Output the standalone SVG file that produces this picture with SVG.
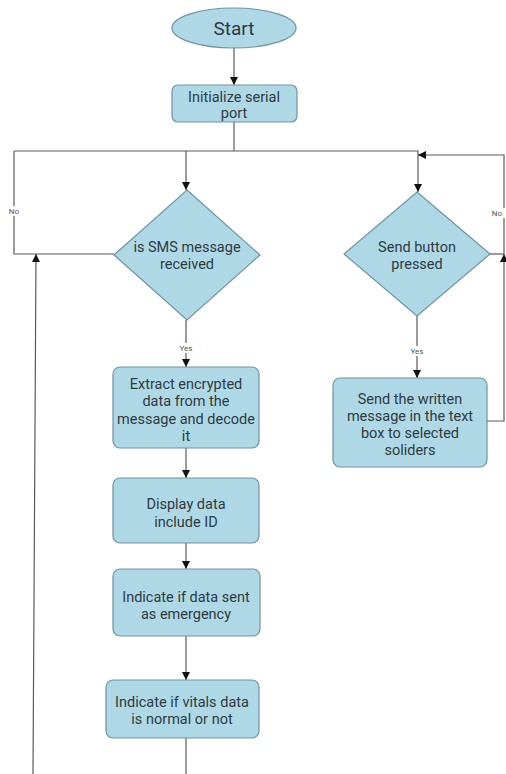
<svg xmlns="http://www.w3.org/2000/svg" width="506" height="774" viewBox="0 0 506 774">
<style>
.box{fill:#aed8e5;stroke:#6f93a2;stroke-width:1.2}
.t{font-family:Roboto,"Liberation Sans",sans-serif;font-size:14.5px;fill:#2f3a40;text-anchor:middle}
.lbl{font-family:Roboto,"Liberation Sans",sans-serif;font-size:8px;fill:#555;text-anchor:middle}
.ln{fill:none;stroke:#5a5a5a;stroke-width:1.2}
</style>
<defs>
<marker id="ah" viewBox="0 0 10 10" refX="10" refY="5" markerWidth="8" markerHeight="8" markerUnits="userSpaceOnUse" orient="auto">
<path d="M0,0 L10,5 L0,10 z" fill="#111"/>
</marker>
</defs>
<rect width="506" height="774" fill="#fff"/>
<g id="connectors">
<line class="ln" x1="234" y1="48" x2="234" y2="85" marker-end="url(#ah)"/>
<polyline class="ln" points="234,122 234,151"/>
<polyline class="ln" points="14,151 418,151 418,192" marker-end="url(#ah)"/>
<line class="ln" x1="186" y1="151" x2="186" y2="190" marker-end="url(#ah)"/>
<polyline class="ln" points="114,254 14,254 14,151"/>
<line class="ln" x1="33" y1="774" x2="36" y2="254" marker-end="url(#ah)"/>
<line class="ln" x1="186" y1="320" x2="186" y2="367" marker-end="url(#ah)"/>
<line class="ln" x1="186" y1="448" x2="186" y2="478" marker-end="url(#ah)"/>
<line class="ln" x1="186" y1="543" x2="186" y2="569" marker-end="url(#ah)"/>
<line class="ln" x1="186" y1="636" x2="186" y2="680" marker-end="url(#ah)"/>
<line class="ln" x1="186" y1="738" x2="186" y2="774"/>
<line class="ln" x1="417" y1="316" x2="417" y2="378" marker-end="url(#ah)"/>
<polyline class="ln" points="490,254 504,254"/>
<polyline class="ln" points="487,421 504,421 504,254" marker-end="url(#ah)"/>
<polyline class="ln" points="504,254 504,155 418,155" marker-end="url(#ah)"/>
<rect x="7" y="206" width="14" height="10" fill="#fff"/>
<text class="lbl" x="14" y="214">No</text>
<rect x="491" y="208" width="14" height="10" fill="#fff"/>
<text class="lbl" x="497" y="216">No</text>
<rect x="176" y="343" width="20" height="10" fill="#fff"/>
<text class="lbl" x="186" y="351">Yes</text>
<rect x="407" y="346" width="20" height="10" fill="#fff"/>
<text class="lbl" x="417" y="354">Yes</text>
</g>
<g id="start">
<ellipse class="box" cx="234" cy="28" rx="62" ry="20"/>
<text class="t" x="234" y="35" style="font-size:19px">Start</text>
</g>
<g id="init">
<rect class="box" x="172" y="85" width="125" height="37" rx="6"/>
<text class="t" x="234" y="102">Initialize serial</text>
<text class="t" x="234" y="118">port</text>
</g>
<g id="sms">
<polygon class="box" points="187,190 260,255 187,320 114,255"/>
<text class="t" x="187" y="252">is SMS message</text>
<text class="t" x="187" y="269">received</text>
</g>
<g id="send">
<polygon class="box" points="417,192 490,254 417,316 344,254"/>
<text class="t" x="417" y="252">Send button</text>
<text class="t" x="417" y="269">pressed</text>
</g>
<g id="extract">
<rect class="box" x="113" y="367" width="146" height="81" rx="7"/>
<text class="t" x="186" y="389">Extract encrypted</text>
<text class="t" x="186" y="406">data from the</text>
<text class="t" x="186" y="424">message and decode</text>
<text class="t" x="186" y="441">it</text>
</g>
<g id="display">
<rect class="box" x="113" y="478" width="146" height="65" rx="7"/>
<text class="t" x="186" y="509">Display data</text>
<text class="t" x="186" y="527">include ID</text>
</g>
<g id="emergency">
<rect class="box" x="113" y="569" width="147" height="67" rx="7"/>
<text class="t" x="186" y="602">Indicate if data sent</text>
<text class="t" x="186" y="619">as emergency</text>
</g>
<g id="vitals">
<rect class="box" x="106" y="680" width="153" height="58" rx="7"/>
<text class="t" x="182" y="707">Indicate if vitals data</text>
<text class="t" x="182" y="724">is normal or not</text>
</g>
<g id="sendmsg">
<rect class="box" x="333" y="378" width="154" height="89" rx="7"/>
<text class="t" x="410" y="404">Send the written</text>
<text class="t" x="410" y="421">message in the text</text>
<text class="t" x="410" y="438">box to selected</text>
<text class="t" x="410" y="455">soliders</text>
</g>
</svg>
